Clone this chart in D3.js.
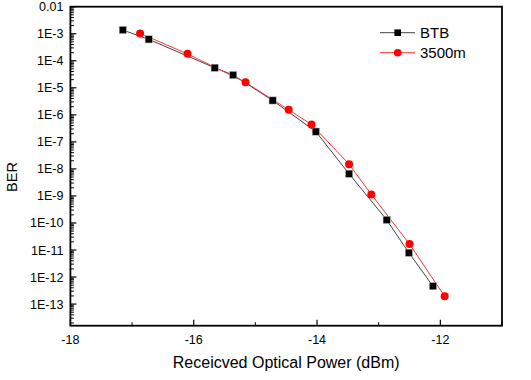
<!DOCTYPE html>
<html><head><meta charset="utf-8">
<script src="https://cdn.jsdelivr.net/npm/d3@7/dist/d3.min.js"></script>
<style>body{margin:0;background:#fff}svg{display:block}</style>
</head><body>
<svg id="c" width="531" height="380"></svg>
<script>
const btbX = [-17.15, -16.73, -15.66, -15.36, -14.72, -14.02, -13.48, -12.87, -12.51, -12.12];
const btbY = [1.37e-3, 6.2e-4, 5.5e-5, 2.97e-5, 3.4e-6, 2.4e-7, 6.6e-9, 1.3e-10, 7.9e-12, 4.6e-13];
const d35X = [-16.87, -16.10, -15.16, -14.46, -14.09, -13.48, -13.12, -12.50, -11.93];
const d35Y = [1.03e-3, 1.8e-4, 1.59e-5, 1.54e-6, 4.4e-7, 1.5e-8, 1.14e-9, 1.66e-11, 1.93e-13];
const xTicks = [-18, -16, -14, -12];
const xMinor = [-17, -15, -13, -11];
const yTicks = [1e-2,1e-3,1e-4,1e-5,1e-6,1e-7,1e-8,1e-9,1e-10,1e-11,1e-12,1e-13];
const yLabels = ["0.01","1E-3","1E-4","1E-5","1E-6","1E-7","1E-8","1E-9","1E-10","1E-11","1E-12","1E-13"];
const seriesNames = ["BTB", "3500m"];

const svg = d3.select("#c");
const L = 70.4, R = 502, T = 6.7, B = 325.7;
const x = d3.scaleLinear().domain([-18, -11]).range([L, R]);
const y = d3.scaleLog().domain([1e-2, Math.pow(10, -13.8)]).range([T, B]);
const font = "Liberation Sans, Arial, sans-serif";

// minor y ticks
const yMinor = [];
for (let e = -14; e <= -3; e++) for (let m = 2; m <= 9; m++) {
  const v = m * Math.pow(10, e);
  if (v <= 1e-2 && v >= Math.pow(10, -13.8)) yMinor.push(v);
}
const g = svg.append("g");
g.selectAll(".ym").data(yMinor).join("line")
  .attr("x1", L).attr("x2", L + 3.5).attr("y1", d => y(d)).attr("y2", d => y(d))
  .attr("stroke", "#000").attr("stroke-width", 1);
g.selectAll(".yM").data(yTicks).join("line")
  .attr("x1", L).attr("x2", L + 6).attr("y1", d => y(d)).attr("y2", d => y(d))
  .attr("stroke", "#000").attr("stroke-width", 1.2);
g.selectAll(".yl").data(yTicks).join("text")
  .attr("x", L - 7).attr("y", d => y(d) + 4.5).attr("text-anchor", "end")
  .attr("font-family", font).attr("font-size", 12.5).text((d, i) => yLabels[i]);

g.selectAll(".xm").data(xMinor).join("line")
  .attr("x1", d => x(d)).attr("x2", d => x(d)).attr("y1", B).attr("y2", B - 3.5)
  .attr("stroke", "#000").attr("stroke-width", 1);
g.selectAll(".xM").data(xTicks).join("line")
  .attr("x1", d => x(d)).attr("x2", d => x(d)).attr("y1", B).attr("y2", B - 6)
  .attr("stroke", "#000").attr("stroke-width", 1.2);
g.selectAll(".xl").data(xTicks).join("text")
  .attr("x", d => x(d)).attr("y", B + 18).attr("text-anchor", "middle")
  .attr("font-family", font).attr("font-size", 12.5).text(d => d);

// frame
svg.append("rect").attr("x", L).attr("y", T).attr("width", R - L).attr("height", B - T)
  .attr("fill", "none").attr("stroke", "#000").attr("stroke-width", 1.8);

// titles
svg.append("text").attr("x", (L + R) / 2).attr("y", 368).attr("text-anchor", "middle")
  .attr("font-family", font).attr("font-size", 16).text("Receicved Optical Power (dBm)");
svg.append("text").attr("transform", "translate(17,177) rotate(-90)").attr("text-anchor", "middle")
  .attr("font-family", font).attr("font-size", 14.5).text("BER");

const line = d3.line().x(d => x(d[0])).y(d => y(d[1]));
const btb = btbX.map((v, i) => [v, btbY[i]]);
const d35 = d35X.map((v, i) => [v, d35Y[i]]);

svg.append("path").attr("d", line(btb)).attr("fill", "none").attr("stroke", "#444").attr("stroke-width", 1);
svg.append("path").attr("d", line(d35)).attr("fill", "none").attr("stroke", "#ff3333").attr("stroke-width", 1);

svg.selectAll(".sq").data(btb).join("rect")
  .attr("x", d => x(d[0]) - 3.6).attr("y", d => y(d[1]) - 3.6)
  .attr("width", 7.2).attr("height", 7.2).attr("fill", "#000")
  .attr("stroke", "#bbb").attr("stroke-width", 0.5);
svg.selectAll(".ci").data(d35).join("circle")
  .attr("cx", d => x(d[0])).attr("cy", d => y(d[1])).attr("r", 4)
  .attr("fill", "#ff0000");

// legend
const lg = svg.append("g");
const ly = [32.7, 52.7];
lg.append("line").attr("x1", 380).attr("x2", 415).attr("y1", ly[0]).attr("y2", ly[0]).attr("stroke", "#444");
lg.append("rect").attr("x", 397.7 - 3.3).attr("y", ly[0] - 3.3).attr("width", 6.6).attr("height", 6.6).attr("fill", "#000");
lg.append("line").attr("x1", 380).attr("x2", 415).attr("y1", ly[1]).attr("y2", ly[1]).attr("stroke", "#ff3333");
lg.append("circle").attr("cx", 397.7).attr("cy", ly[1]).attr("r", 3.8).attr("fill", "#ff0000");
lg.selectAll("text").data(seriesNames).join("text")
  .attr("x", 420).attr("y", (d, i) => ly[i] + 5.3)
  .attr("font-family", font).attr("font-size", 15).text(d => d);
</script>
</body></html>
